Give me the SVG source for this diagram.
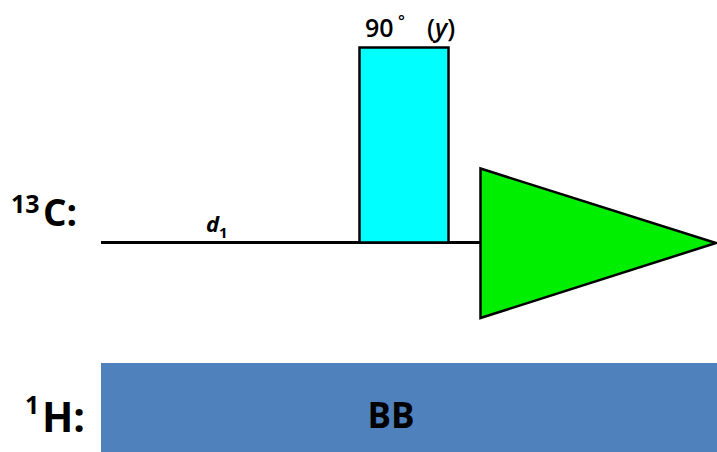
<svg xmlns="http://www.w3.org/2000/svg" width="717" height="452" viewBox="0 0 717 452">
<style>
.lbl{font-family:"Open Sans","Liberation Sans",sans-serif;font-weight:bold;fill:#000}
.ln{stroke:#000;stroke-width:3;fill:none}
</style>
<rect width="717" height="452" fill="#fff"/>
<g id="connectors">
<line class="ln" x1="101" y1="242.5" x2="481" y2="242.5"/>
</g>
<g id="c13-label"><text class="lbl" y="226" font-size="37"><tspan x="11" y="213" font-size="25">13</tspan><tspan x="43" y="226">C:</tspan></text></g>
<g id="h1-label"><text class="lbl" y="432" font-size="41"><tspan x="25" y="414" font-size="25">1</tspan><tspan x="42" y="432">H:</tspan></text></g>
<g id="d1"><text x="206" y="232" font-family="Open Sans, Liberation Sans, sans-serif" font-style="italic" font-weight="bold" font-size="22">d<tspan font-style="normal" font-size="15" x="219" y="238">1</tspan></text></g>
<g id="pulse90">
<rect x="359.5" y="47.5" width="89" height="195" fill="#00FFFF" stroke="#000" stroke-width="2.5"/>
<text y="37" font-family="Open Sans, Liberation Sans, sans-serif" font-size="25" font-weight="600"><tspan x="365">90</tspan><tspan x="398" y="27" font-size="16">°</tspan><tspan x="427" y="37">(</tspan><tspan font-style="italic">y</tspan>)</text>
</g>
<g id="fid">
<polygon points="480.5,168.5 716,243 480.5,318" fill="#00EE00" stroke="#000" stroke-width="2.5" stroke-linejoin="miter"/>
</g>
<g id="bb">
<rect x="101" y="363" width="616" height="89" fill="#4F81BD"/>
<text class="lbl" x="391" y="428" font-size="35" text-anchor="middle">BB</text>
</g>
</svg>
